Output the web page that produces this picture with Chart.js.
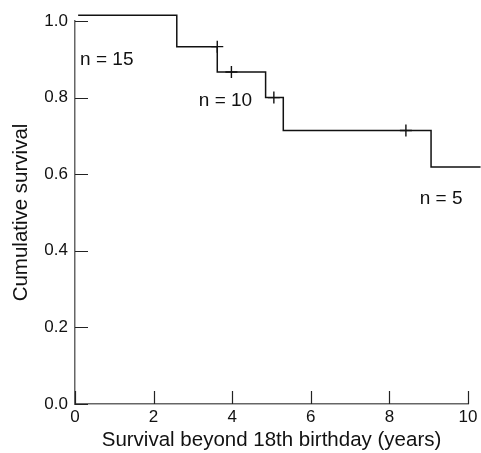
<!DOCTYPE html>
<html>
<head>
<meta charset="utf-8">
<script src="https://cdn.jsdelivr.net/npm/chart.js@4/dist/chart.umd.min.js"></script>
<style>
  html, body { margin: 0; padding: 0; background: #fff; }
  #wrap { width: 481px; height: 453px; position: relative; }
</style>
</head>
<body>
<div id="wrap"><canvas id="c" width="481" height="453"></canvas></div>
<script>
// Kaplan–Meier steps: time (years) and cumulative survival after each event
const stepTimes = [0.08, 2.59, 3.62, 4.85, 5.30, 9.06, 10.32];
const stepSurvival = [1.015, 0.933, 0.867, 0.800, 0.714, 0.619, 0.619];
// censored observations (+)
const censorTimes = [3.62, 3.98, 5.06, 8.42];
const censorSurvival = [0.933, 0.867, 0.800, 0.714];
// at-risk annotations
const noteLabels = ['n = 15', 'n = 10', 'n = 5'];
const noteTimes = [0.13, 3.15, 8.77];
const noteSurvival = [0.90, 0.793, 0.535];
// axis ticks
const xTicks = [0, 2, 4, 6, 8, 10];
const yTicks = [0.0, 0.2, 0.4, 0.6, 0.8, 1.0];

const FONT = 'Liberation Sans, Arial, Helvetica, sans-serif';
const TEXT = '#111';

const innerTicks = {
  id: 'innerTicks',
  afterDraw(chart) {
    const { ctx, scales: { x, y } } = chart;
    ctx.save();
    ctx.strokeStyle = '#222';
    ctx.lineWidth = 1.2;
    ctx.beginPath();
    yTicks.forEach(v => {
      const py = Math.round(y.getPixelForValue(v)) + 0.5;
      ctx.moveTo(x.getPixelForValue(0), py);
      ctx.lineTo(x.getPixelForValue(0) + 13, py);
    });
    xTicks.forEach(v => {
      const px = Math.round(x.getPixelForValue(v)) + 0.5;
      ctx.moveTo(px, y.getPixelForValue(0));
      ctx.lineTo(px, y.getPixelForValue(0) - 13);
    });
    ctx.stroke();
    // notes
    ctx.fillStyle = TEXT;
    ctx.font = '19px ' + FONT;
    ctx.textBaseline = 'middle';
    ctx.textAlign = 'left';
    noteLabels.forEach((t, i) => {
      ctx.fillText(t, x.getPixelForValue(noteTimes[i]), y.getPixelForValue(noteSurvival[i]));
    });
    ctx.restore();
  }
};

new Chart(document.getElementById('c'), {
  type: 'line',
  data: {
    datasets: [
      {
        data: stepTimes.map((t, i) => ({ x: t, y: stepSurvival[i] })),
        stepped: 'before',
        borderColor: '#111',
        borderWidth: 1.5,
        pointRadius: 0,
        fill: false,
        clip: false
      },
      {
        type: 'scatter',
        data: censorTimes.map((t, i) => ({ x: t, y: censorSurvival[i] })),
        pointStyle: 'cross',
        pointRadius: 6,
        pointBorderWidth: 1.4,
        borderColor: '#111',
        clip: false
      }
    ]
  },
  plugins: [innerTicks],
  options: {
    responsive: false,
    animation: false,
    events: [],
    layout: { padding: { top: 21, right: 13, left: 9, bottom: 0 } },
    plugins: { legend: { display: false }, tooltip: { enabled: false } },
    scales: {
      x: {
        type: 'linear',
        min: 0, max: 10,
        afterBuildTicks: s => { s.ticks = xTicks.map(v => ({ value: v })); },
        afterFit: s => { s.height = 49; },
        grid: { display: false, drawTicks: false },
        border: { display: true, color: '#666', width: 1.5 },
        ticks: { color: TEXT, font: { family: FONT, size: 17 }, padding: 3, maxRotation: 0 },
        title: { display: true, text: 'Survival beyond 18th birthday (years)', color: TEXT,
                 font: { family: FONT, size: 20.5 }, padding: { top: 2, bottom: 0 } }
      },
      y: {
        type: 'linear',
        min: 0, max: 1,
        afterBuildTicks: s => { s.ticks = yTicks.map(v => ({ value: v })); },
        afterFit: s => { s.width = 66; },
        grid: { display: false, drawTicks: false },
        border: { display: true, color: '#666', width: 1.5 },
        ticks: { color: TEXT, font: { family: FONT, size: 17 }, padding: 7,
                 callback: v => v.toFixed(1) },
        title: { display: true, text: 'Cumulative survival', color: TEXT,
                 font: { family: FONT, size: 20.5 }, padding: { top: 0, bottom: 0 } }
      }
    }
  }
});
</script>
</body>
</html>
